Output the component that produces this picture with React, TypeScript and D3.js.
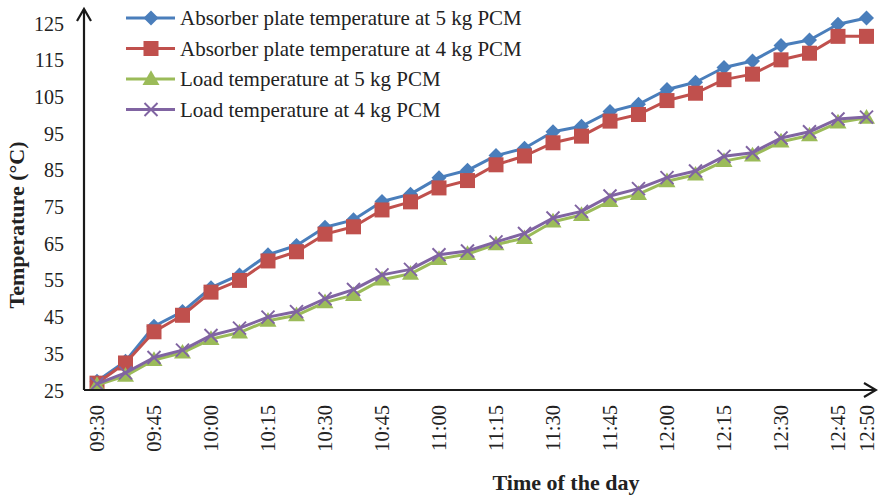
import React from "react";
import * as d3 from "d3";

const timeLabels = ["09:30","","09:45","","10:00","","10:15","","10:30","","10:45","","11:00","","11:15","","11:30","","11:45","","12:00","","12:15","","12:30","","12:45","12:50"];

const absorber5kg = [27.5,33,42.5,46.5,53,56.5,62,64.5,69.5,71.5,76.5,78.5,83,85,89,91,95.5,97,101,103,107,109,113,114.8,119,120.5,124.8,126.5];
const absorber4kg = [27,32.5,41,45.5,51.8,55,60.3,62.8,67.6,69.6,74.2,76.4,80.2,82.2,86.5,88.9,92.5,94.3,98.4,100.2,104,106,109.7,111.2,115.1,116.9,121.5,121.5];
const load5kg = [26.5,29,33.3,35.3,39,40.8,44,45.5,49,51,55.2,56.8,60.8,62.2,64.8,66.5,71,72.8,76.6,78.5,82,83.8,87.5,89,92.8,94.5,98,99.3];
const load4kg = [26.8,29.8,34,36,40,42,45,46.5,50,52.5,56.5,58,62,63,65.5,67.8,72,73.8,78,80,83,84.8,88.8,89.8,93.8,95.5,99,99.5];

const yTicks = [25,35,45,55,65,75,85,95,105,115,125];

const seriesNames = [
  "Absorber plate temperature at 5 kg PCM",
  "Absorber plate temperature at 4 kg PCM",
  "Load temperature at 5 kg PCM",
  "Load temperature at 4 kg PCM",
];
const seriesValues = [absorber5kg, absorber4kg, load5kg, load4kg];
const seriesColors = ["#4A7EBB", "#C0504D", "#9BBB59", "#8064A2"];
const seriesMarkers = ["diamond", "square", "triangle", "x"];

const FONT = "'Liberation Serif', 'Times New Roman', serif";

function Marker({ kind, cx, cy, color }: { kind: string; cx: number; cy: number; color: string }) {
  if (kind === "diamond") {
    const r = 7.5;
    return <path d={`M${cx},${cy - r}L${cx + r},${cy}L${cx},${cy + r}L${cx - r},${cy}Z`} fill={color} />;
  }
  if (kind === "square") {
    const r = 7.5;
    return <rect x={cx - r} y={cy - r} width={2 * r} height={2 * r} fill={color} />;
  }
  if (kind === "triangle") {
    const path = d3.symbol().type(d3.symbolTriangle).size(125)();
    return <path d={path || ""} transform={`translate(${cx},${cy + 1})`} fill={color} />;
  }
  const r = 6.5;
  return (
    <g stroke={color} strokeWidth={2}>
      <line x1={cx - r} y1={cy - r} x2={cx + r} y2={cy + r} />
      <line x1={cx - r} y1={cy + r} x2={cx + r} y2={cy - r} />
    </g>
  );
}

export default function App() {
  const W = 878, H = 498;
  const x = d3.scalePoint<number>().domain(d3.range(timeLabels.length)).range([97, 866.5]);
  const y = d3.scaleLinear().domain([25, 125]).range([390.5, 23.5]);
  const axisX = 84, axisY = 390;
  const line = d3.line<number>().x((_, i) => x(i) as number).y((v) => y(v));

  return (
    <svg width={W} height={H} style={{ position: "absolute", left: 0, top: 0, background: "#fff" }} fontFamily={FONT}>
      <rect width={W} height={H} fill="#fff" />
      {seriesValues.map((vals, si) => (
        <g key={si}>
          <path d={line(vals) || ""} fill="none" stroke={seriesColors[si]} strokeWidth={3} strokeLinejoin="round" />
          {vals.map((v, i) => (
            <Marker key={i} kind={seriesMarkers[si]} cx={x(i) as number} cy={y(v)} color={seriesColors[si]} />
          ))}
        </g>
      ))}
      <g stroke="#1a1a1a" strokeWidth={2.2} fill="none">
        <line x1={axisX} y1={axisY} x2={axisX} y2={9} />
        <path d={`M${axisX - 7},${21}L${axisX},${9}L${axisX + 7},${21}`} />
        <line x1={axisX} y1={axisY} x2={876} y2={axisY} />
        <path d={`M${864},${axisY - 7}L${876},${axisY}L${864},${axisY + 7}`} />
      </g>
      {yTicks.map((t) => (
        <text key={t} x={64} y={y(t)} textAnchor="end" dominantBaseline="central" fontSize={20} fill="#222">
          {t}
        </text>
      ))}
      {timeLabels.map((lab, i) =>
        lab ? (
          <text
            key={i}
            transform={`translate(${(x(i) as number) + 7},${405}) rotate(-90)`}
            textAnchor="end"
            fontSize={20.5}
            fill="#222"
          >
            {lab}
          </text>
        ) : null
      )}
      <text x={566} y={490} textAnchor="middle" fontSize={22} fontWeight="bold" fill="#222">
        Time of the day
      </text>
      <text transform={`translate(24,225) rotate(-90)`} textAnchor="middle" fontSize={22} fontWeight="bold" fill="#222">
        Temperature (°C)
      </text>
      {seriesNames.map((name, si) => {
        const ly = 18 + si * 30.5;
        return (
          <g key={si}>
            <line x1={126} x2={175} y1={ly} y2={ly} stroke={seriesColors[si]} strokeWidth={3} />
            <Marker kind={seriesMarkers[si]} cx={151} cy={ly} color={seriesColors[si]} />
            <text x={180} y={ly} dominantBaseline="central" fontSize={21} fill="#222">
              {name}
            </text>
          </g>
        );
      })}
    </svg>
  );
}
